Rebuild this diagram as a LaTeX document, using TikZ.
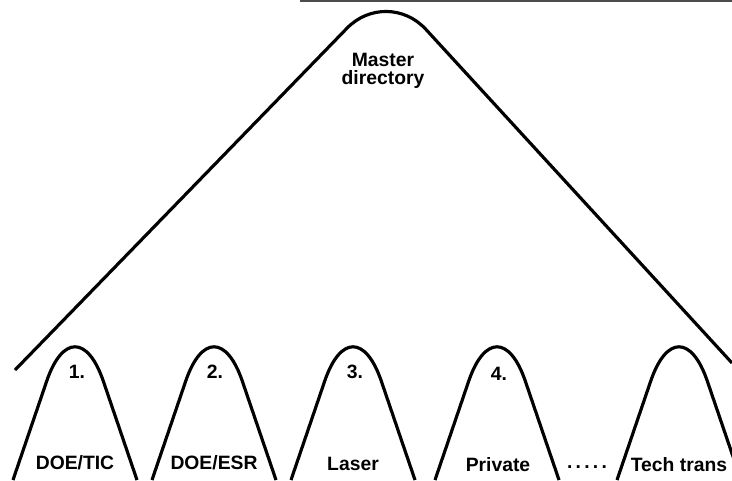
\documentclass[tikz,border=0pt]{standalone}
\usepackage{fontspec}
\setmainfont{Liberation Sans}
\begin{document}
\begin{tikzpicture}[x=0.02cm, y=-0.02cm, line width=1.8pt, line join=round,
  every node/.style={font=\bfseries\fontsize{11}{13}\selectfont, inner sep=0pt}]
\useasboundingbox (0,0) rectangle (732,480);
% edge of the page at the top
\draw[line width=0.6pt, black!70] (300,1) -- (732,1);
% master directory
\draw[rounded corners=1.15cm] (15,370) -- (387,-13) -- (732,363);
\node (master) at (383,60) {Master};
\node (directory) at (383,80) {directory};
% the data bases
\draw[rounded corners=1.76cm] (13,480) -- (75,298) -- (137,480);
\node (num1) at (77,372) {1.};
\node (doetic) at (75,463) {DOE/TIC};
\draw[rounded corners=1.76cm] (152,480) -- (214,298) -- (276,480);
\node (num2) at (215,372) {2.};
\node (doeesr) at (214,463) {DOE/ESR};
\draw[rounded corners=1.76cm] (291,480) -- (353,298) -- (415,480);
\node (num3) at (355,372) {3.};
\node (laser) at (353,464) {Laser};
\draw[rounded corners=1.76cm] (435,480) -- (497,298) -- (559,480);
\node (num4) at (499,374) {4.};
\node (private) at (498,465) {Private};
\node (dots) at (587,467) {.\,.\,.\,.\,.};
\draw[rounded corners=1.76cm] (617,480) -- (679,298) -- (741,480);
\node (techtrans) at (679,465) {Tech trans};
\end{tikzpicture}
\end{document}
